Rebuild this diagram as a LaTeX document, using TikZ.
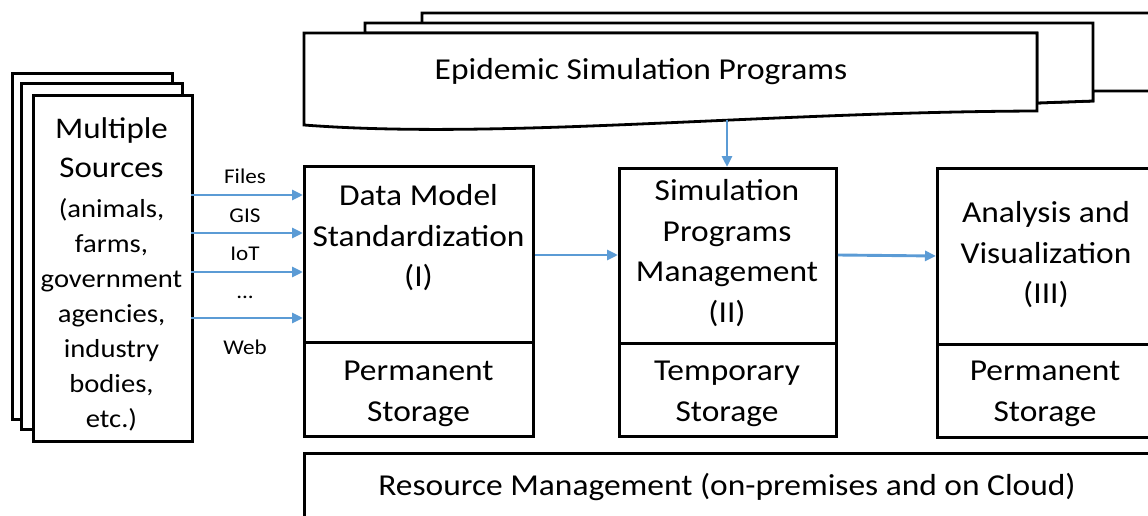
\documentclass[tikz,border=0pt]{standalone}
\usepackage{fontspec}
\setmainfont{Carlito}[FakeStretch=1.1]
\usetikzlibrary{arrows.meta}
\definecolor{arrowblue}{RGB}{91,155,213}
\begin{document}
\begin{tikzpicture}[x=1pt,y=-1pt,
  box/.style={draw,line width=2.8pt,fill=white,inner sep=0pt,anchor=north west},
  big/.style={font=\fontsize{30.4}{40.5}\selectfont,align=center,inner sep=0pt},
  small/.style={font=\fontsize{21}{24}\selectfont,inner sep=0pt},
  flow/.style={draw=arrowblue,line width=2.9pt,-{Triangle[length=11pt,width=10pt]}}]
\useasboundingbox (0,0) rectangle (1148,516);
\clip (0,0) rectangle (1148,516);
% epidemic simulation programs stack
\draw[line width=2.8pt,fill=white] (422,13) -- (1160,13) -- (1160,91) -- (1093,91) -- (1093,101) -- (1037,103) -- (1037,33) -- (422,33) -- cycle;
\draw[line width=2.8pt,fill=white] (365,23) -- (1093,23) -- (1093,101) -- (1037,103) -- (1037,33) -- (365,33) -- cycle;
\draw[line width=2.8pt,fill=white] (304,33) -- (1037,33) -- (1037,111) .. controls (760,112) and (500,140) .. (304,125) -- cycle;
\coordinate (espbot) at (727,120);
\node[big] (esp) at (641,72) {Epidemic Simulation Programs};
% multiple sources stack
\node[box,minimum width=160pt,minimum height=346pt] (src3) at (11,72) {};
\node[box,minimum width=161pt,minimum height=346pt] (src2) at (20,82) {};
\node[box,minimum width=159pt,minimum height=346pt] (src1) at (32,94) {};
\node[align=center,inner sep=0pt,font=\fontsize{26}{35}\selectfont] (srctext) at (111.5,274) {{\fontsize{30}{35}\selectfont Multiple}\\[4pt]{\fontsize{30}{35}\selectfont Sources}\\[5pt](animals,\\farms,\\government\\agencies,\\industry\\bodies,\\etc.)};
% module boxes
\node[box,minimum width=229pt,minimum height=176pt] (dms) at (303,165) {};
\node[box,minimum width=229pt,minimum height=94pt] (dmsst) at (303,341) {};
\node[box,minimum width=217pt,minimum height=175pt] (spm) at (618,167) {};
\node[box,minimum width=217pt,minimum height=93pt] (spmst) at (618,342) {};
\node[box,minimum width=240pt,minimum height=176pt] (av) at (936,167) {};
\node[box,minimum width=240pt,minimum height=93pt] (avst) at (936,343) {};
\node[box,minimum width=880pt,minimum height=100pt] (rm) at (303,452) {};
\node[big] (dmstext) at (418.5,238) {Data Model\\Standardization\\(I)};
\node[big] (dmssttext) at (418.5,394) {Permanent\\Storage};
\node[big] (spmtext) at (727,253) {Simulation\\Programs\\Management\\(II)};
\node[big] (spmsttext) at (727,394) {Temporary\\Storage};
\node[big] (avtext) at (1046,255) {Analysis and\\Visualization\\(III)};
\node[big] (avsttext) at (1045,394) {Permanent\\Storage};
\node[big] (rmtext) at (727,487) {Resource Management (on-premises and on Cloud)};
% input arrows
\foreach \yy/\nm in {195/a,233/b,272/c,318/d}{
  \coordinate (s\nm) at (191,\yy);
  \coordinate (t\nm) at (303,\yy);
  \draw[flow] (s\nm) -- (t\nm);
}
\node[small] (lfiles) at (245,176) {Files};
\node[small] (lgis) at (245,216) {GIS};
\node[small] (liot) at (245,254) {IoT};
\node[small] (ldots) at (245,297) {...};
\node[small] (lweb) at (245,347) {Web};
% flow arrows
\draw[flow] (dms.east |- 0,255) -- (spm.west |- 0,255);
\draw[flow] (spm.east |- 0,255) -- (av.west |- 0,256);
\draw[flow] (espbot) -- (spm.north -| espbot);
\end{tikzpicture}
\end{document}
